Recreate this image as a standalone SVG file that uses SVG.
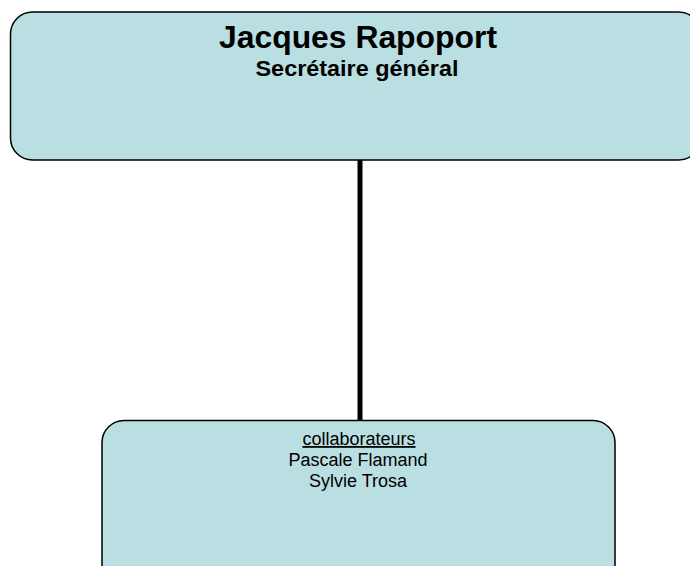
<svg xmlns="http://www.w3.org/2000/svg" width="690" height="566" viewBox="0 0 690 566">
<style>
.box{fill:#b9dfe3;stroke:#000;stroke-width:1.5}
.t{font-family:"Liberation Sans",Arial,sans-serif;text-anchor:middle;fill:#000}
</style>
<rect width="690" height="566" fill="#fff"/>
<g id="connectors">
<line x1="360" y1="160" x2="360" y2="421" stroke="#000" stroke-width="5"/>
</g>
<g id="node-rapoport">
<rect class="box" x="10.5" y="12" width="690" height="148" rx="22"/>
<text class="t" x="358" y="48" font-size="31" font-weight="bold" textLength="278" lengthAdjust="spacingAndGlyphs">Jacques Rapoport</text>
<text class="t" x="357" y="76" font-size="22" font-weight="bold" textLength="203" lengthAdjust="spacingAndGlyphs">Secrétaire général</text>
</g>
<g id="node-collaborateurs">
<rect class="box" x="102" y="420.5" width="513" height="170" rx="22"/>
<text class="t" x="359" y="445" font-size="18" text-decoration="underline">collaborateurs</text>
<text class="t" x="358" y="466" font-size="18">Pascale Flamand</text>
<text class="t" x="358" y="487" font-size="18">Sylvie Trosa</text>
</g>
</svg>
